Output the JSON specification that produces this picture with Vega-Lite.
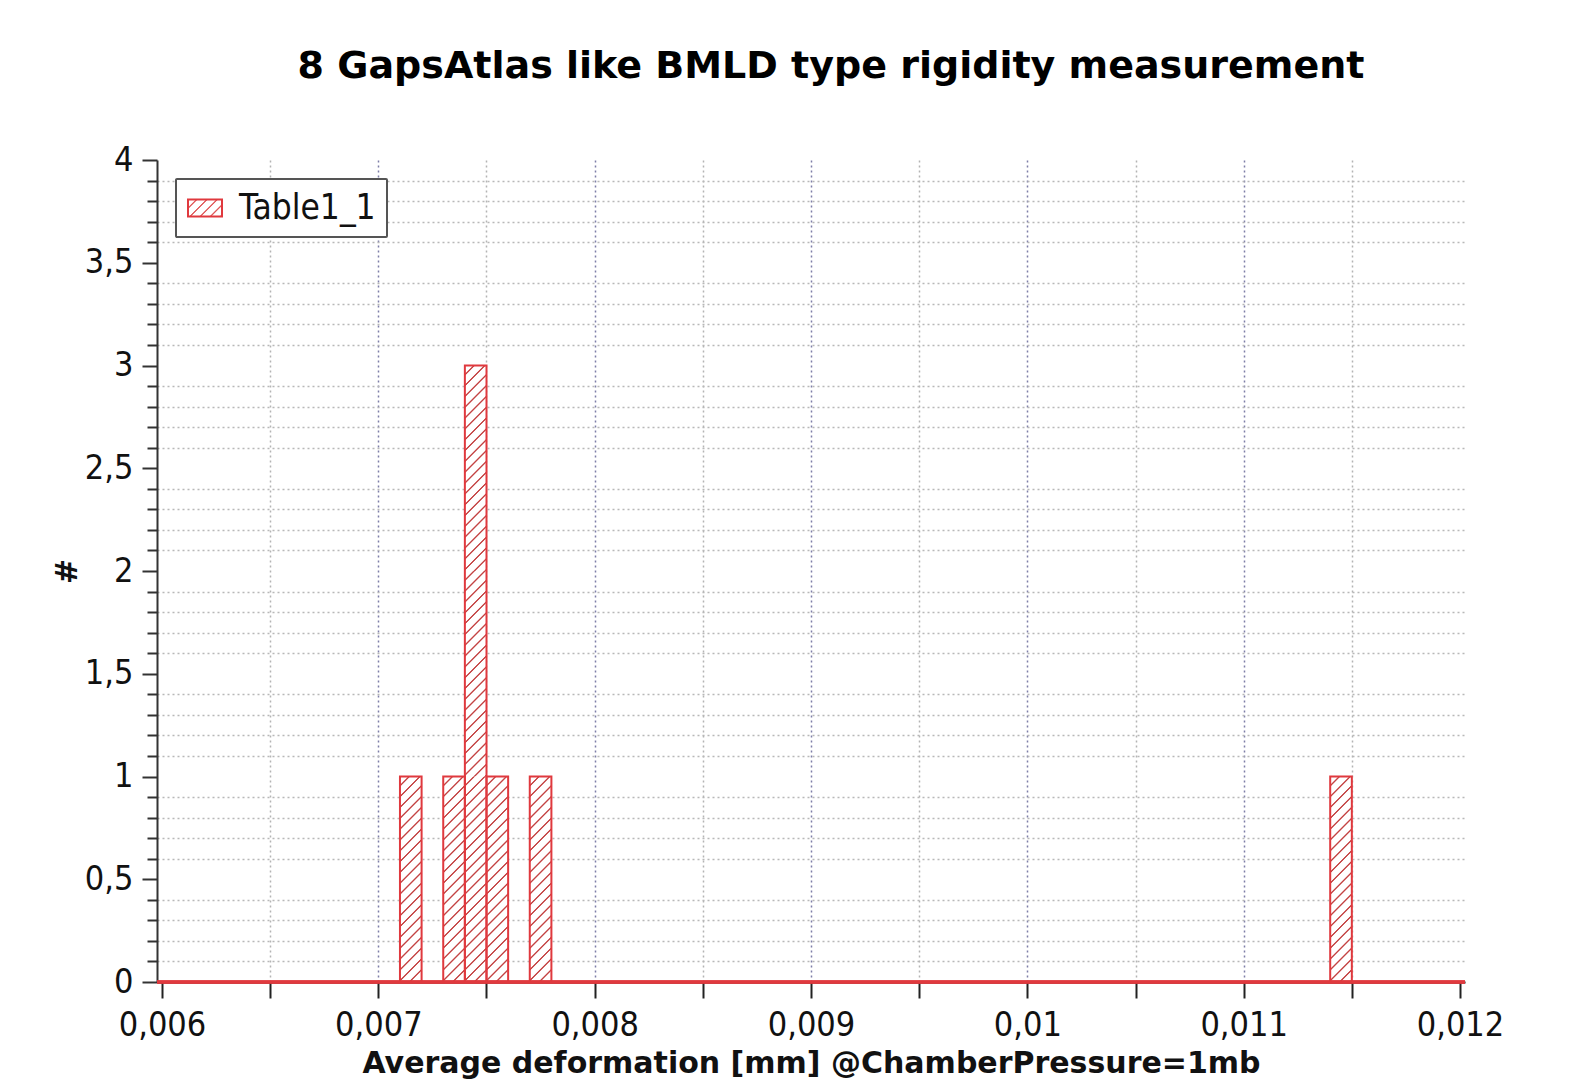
{
  "$schema": "https://vega.github.io/schema/vega-lite/v6.json",
  "width": 1308,
  "height": 822,
  "autosize": "none",
  "padding": {"left": 157, "top": 160, "right": 107, "bottom": 97},
  "background": "white",
  "title": {
    "text": "8 GapsAtlas like BMLD type rigidity measurement",
    "font": "DejaVu Sans",
    "fontWeight": "bold",
    "fontSize": 38,
    "color": "#000000",
    "anchor": "middle",
    "baseline": "alphabetic",
    "dx": 20,
    "offset": 27
  },
  "config": {
    "view": {"stroke": null},
    "axis": {"labelFont": "DejaVu Sans Condensed, Liberation Sans, sans-serif", "titleFont": "DejaVu Sans"},
    "legend": {"strokeWidth": 2}
  },
  "data": {
    "values": [
      {"id": 1, "bin_start": 0.0071, "bin_end": 0.0072},
      {"id": 2, "bin_start": 0.0073, "bin_end": 0.0074},
      {"id": 3, "bin_start": 0.0074, "bin_end": 0.0075},
      {"id": 4, "bin_start": 0.0074, "bin_end": 0.0075},
      {"id": 5, "bin_start": 0.0074, "bin_end": 0.0075},
      {"id": 6, "bin_start": 0.0075, "bin_end": 0.0076},
      {"id": 7, "bin_start": 0.0077, "bin_end": 0.0078},
      {"id": 8, "bin_start": 0.0114, "bin_end": 0.0115}
    ]
  },
  "resolve": {"axis": {"x": "independent", "y": "independent"}},
  "layer": [
    {
      "mark": {
        "type": "bar",
        "strokeWidth": 0,
        "fill": {
          "gradient": "linear", "x1": 0, "y1": 0, "x2": 0.116, "y2": 1.094,
          "stops": [
            {"offset": 0, "color": "#ffffff"}, {"offset": 0.03429, "color": "#ffffff"}, {"offset": 0.03905, "color": "#c44444"}, {"offset": 0.04286, "color": "#c44444"},
            {"offset": 0.04762, "color": "#ffffff"}, {"offset": 0.08191, "color": "#ffffff"}, {"offset": 0.08667, "color": "#c44444"}, {"offset": 0.09048, "color": "#c44444"},
            {"offset": 0.09524, "color": "#ffffff"}, {"offset": 0.12953, "color": "#ffffff"}, {"offset": 0.13429, "color": "#c44444"}, {"offset": 0.1381, "color": "#c44444"},
            {"offset": 0.14286, "color": "#ffffff"}, {"offset": 0.17715, "color": "#ffffff"}, {"offset": 0.18191, "color": "#c44444"}, {"offset": 0.18572, "color": "#c44444"},
            {"offset": 0.19048, "color": "#ffffff"}, {"offset": 0.22477, "color": "#ffffff"}, {"offset": 0.22953, "color": "#c44444"}, {"offset": 0.23334, "color": "#c44444"},
            {"offset": 0.2381, "color": "#ffffff"}, {"offset": 0.27239, "color": "#ffffff"}, {"offset": 0.27715, "color": "#c44444"}, {"offset": 0.28096, "color": "#c44444"},
            {"offset": 0.28571, "color": "#ffffff"}, {"offset": 0.32, "color": "#ffffff"}, {"offset": 0.32476, "color": "#c44444"}, {"offset": 0.32857, "color": "#c44444"},
            {"offset": 0.33333, "color": "#ffffff"}, {"offset": 0.36762, "color": "#ffffff"}, {"offset": 0.37238, "color": "#c44444"}, {"offset": 0.37619, "color": "#c44444"},
            {"offset": 0.38095, "color": "#ffffff"}, {"offset": 0.41524, "color": "#ffffff"}, {"offset": 0.42, "color": "#c44444"}, {"offset": 0.42381, "color": "#c44444"},
            {"offset": 0.42857, "color": "#ffffff"}, {"offset": 0.46286, "color": "#ffffff"}, {"offset": 0.46762, "color": "#c44444"}, {"offset": 0.47143, "color": "#c44444"},
            {"offset": 0.47619, "color": "#ffffff"}, {"offset": 0.51048, "color": "#ffffff"}, {"offset": 0.51524, "color": "#c44444"}, {"offset": 0.51905, "color": "#c44444"},
            {"offset": 0.52381, "color": "#ffffff"}, {"offset": 0.5581, "color": "#ffffff"}, {"offset": 0.56286, "color": "#c44444"}, {"offset": 0.56667, "color": "#c44444"},
            {"offset": 0.57143, "color": "#ffffff"}, {"offset": 0.60572, "color": "#ffffff"}, {"offset": 0.61048, "color": "#c44444"}, {"offset": 0.61429, "color": "#c44444"},
            {"offset": 0.61905, "color": "#ffffff"}, {"offset": 0.65334, "color": "#ffffff"}, {"offset": 0.6581, "color": "#c44444"}, {"offset": 0.66191, "color": "#c44444"},
            {"offset": 0.66667, "color": "#ffffff"}, {"offset": 0.70096, "color": "#ffffff"}, {"offset": 0.70572, "color": "#c44444"}, {"offset": 0.70953, "color": "#c44444"},
            {"offset": 0.71429, "color": "#ffffff"}, {"offset": 0.74858, "color": "#ffffff"}, {"offset": 0.75334, "color": "#c44444"}, {"offset": 0.75715, "color": "#c44444"},
            {"offset": 0.7619, "color": "#ffffff"}, {"offset": 0.79619, "color": "#ffffff"}, {"offset": 0.80095, "color": "#c44444"}, {"offset": 0.80476, "color": "#c44444"},
            {"offset": 0.80952, "color": "#ffffff"}, {"offset": 0.84381, "color": "#ffffff"}, {"offset": 0.84857, "color": "#c44444"}, {"offset": 0.85238, "color": "#c44444"},
            {"offset": 0.85714, "color": "#ffffff"}, {"offset": 0.89143, "color": "#ffffff"}, {"offset": 0.89619, "color": "#c44444"}, {"offset": 0.9, "color": "#c44444"},
            {"offset": 0.90476, "color": "#ffffff"}, {"offset": 0.93905, "color": "#ffffff"}, {"offset": 0.94381, "color": "#c44444"}, {"offset": 0.94762, "color": "#c44444"},
            {"offset": 0.95238, "color": "#ffffff"}, {"offset": 0.98667, "color": "#ffffff"}, {"offset": 0.99143, "color": "#c44444"}, {"offset": 0.99524, "color": "#c44444"},
            {"offset": 1, "color": "#ffffff"}
          ]
        }
      },
      "encoding": {
        "x": {
          "field": "bin_start", "type": "quantitative",
          "scale": {"domain": [0.006, 0.012], "nice": false, "zero": false},
          "axis": {
            "values": [0.006, 0.0065, 0.007, 0.0075, 0.008, 0.0085, 0.009, 0.0095, 0.01, 0.0105, 0.011, 0.0115, 0.012],
            "format": ".4~f",
            "labelExpr": "abs(datum.value*1000 - round(datum.value*1000)) < 1e-6 ? replace(datum.label, '.', ',') : ''",
            "labelFontSize": 34,
            "labelColor": "#111111",
            "labelBaseline": "alphabetic",
            "labelPadding": 37,
            "labelOverlap": false,
            "labelFlush": false,
            "tickSize": 16,
            "tickWidth": 2,
            "tickColor": "#222222",
            "domainColor": "#111111",
            "domainWidth": 2,
            "grid": true,
            "gridColor": {"condition": {"test": "abs(datum.value*1000 - round(datum.value*1000)) < 1e-6", "value": "#7e7ea8"}, "value": "#b4b4b4"},
            "gridDash": [2, 3],
            "gridWidth": 1.5,
            "gridOpacity": {"condition": {"test": "datum.value < 0.00601 || datum.value > 0.01199", "value": 0}, "value": 1},
            "title": "Average deformation [mm] @ChamberPressure=1mb",
            "titleFontSize": 30,
            "titleFontWeight": "bold",
            "titleColor": "#111111",
            "titleBaseline": "alphabetic",
            "titleY": 90
          }
        },
        "x2": {"field": "bin_end"},
        "y": {
          "aggregate": "count", "type": "quantitative", "stack": "zero",
          "scale": {"domain": [0, 4], "nice": false},
          "axis": {
            "orient": "left",
            "values": [0.1, 0.2, 0.3, 0.4, 0.6, 0.7, 0.8, 0.9, 1.1, 1.2, 1.3, 1.4, 1.6, 1.7, 1.8, 1.9, 2.1, 2.2, 2.3, 2.4, 2.6, 2.7, 2.8, 2.9, 3.1, 3.2, 3.3, 3.4, 3.6, 3.7, 3.8, 3.9],
            "labels": false,
            "domain": false,
            "tickSize": 10,
            "tickWidth": 2,
            "tickColor": "#333333",
            "grid": true,
            "gridColor": "#b8b8b8",
            "gridDash": [2, 3],
            "gridWidth": 1.5,
            "title": null
          }
        },
        "detail": {"field": "id", "type": "nominal"}
      }
    },
    {
      "mark": {"type": "bar", "fill": "transparent", "stroke": "#e0393e", "strokeWidth": 2},
      "encoding": {
        "x": {"field": "bin_start", "type": "quantitative", "axis": null},
        "x2": {"field": "bin_end"},
        "y": {
          "aggregate": "count", "type": "quantitative",
          "axis": {
            "orient": "left",
            "values": [0, 0.5, 1, 1.5, 2, 2.5, 3, 3.5, 4],
            "format": ".1~f",
            "labelExpr": "replace(datum.label, '.', ',')",
            "labelFontSize": 34,
            "labelColor": "#111111",
            "labelPadding": 9,
            "labelOverlap": false,
            "labelFlush": false,
            "tickSize": 15,
            "tickWidth": 2,
            "tickColor": "#333333",
            "domainColor": "#333333",
            "domainWidth": 2,
            "grid": false,
            "title": "#",
            "titleFontSize": 30,
            "titleFontWeight": "bold",
            "titleColor": "#111111",
            "titleAngle": -90,
            "titleX": -90,
            "titleY": 411,
            "titleAlign": "center",
            "titleBaseline": "middle"
          }
        }
      }
    },
    {
      "transform": [{"filter": "datum.id > 100"}],
      "mark": {
        "type": "bar",
        "strokeWidth": 2,
        "fillOpacity": 1,
        "fill": {
          "gradient": "linear", "x1": 0, "y1": 0, "x2": 1.2, "y2": 0.6,
          "stops": [
            {"offset": 0, "color": "#ffffff"}, {"offset": 0.144, "color": "#ffffff"}, {"offset": 0.164, "color": "#e05a5a"}, {"offset": 0.18, "color": "#e05a5a"},
            {"offset": 0.2, "color": "#ffffff"}, {"offset": 0.344, "color": "#ffffff"}, {"offset": 0.364, "color": "#e05a5a"}, {"offset": 0.38, "color": "#e05a5a"},
            {"offset": 0.4, "color": "#ffffff"}, {"offset": 0.544, "color": "#ffffff"}, {"offset": 0.564, "color": "#e05a5a"}, {"offset": 0.58, "color": "#e05a5a"},
            {"offset": 0.6, "color": "#ffffff"}, {"offset": 0.744, "color": "#ffffff"}, {"offset": 0.764, "color": "#e05a5a"}, {"offset": 0.78, "color": "#e05a5a"},
            {"offset": 0.8, "color": "#ffffff"}, {"offset": 0.944, "color": "#ffffff"}, {"offset": 0.964, "color": "#e05a5a"}, {"offset": 0.98, "color": "#e05a5a"},
            {"offset": 1, "color": "#ffffff"}
          ]
        }
      },
      "encoding": {
        "x": {"field": "bin_start", "type": "quantitative", "axis": null},
        "x2": {"field": "bin_end"},
        "y": {"aggregate": "count", "type": "quantitative", "axis": null},
        "stroke": {
          "datum": "Table1_1", "type": "nominal",
          "scale": {"range": ["#e0393e"]},
          "legend": {
            "title": null,
            "orient": "top-left",
            "offset": 19,
            "padding": 11,
            "strokeColor": "#555555",
            "fillColor": "#ffffff",
            "cornerRadius": 1,
            "labelFont": "DejaVu Sans Condensed, Liberation Sans, sans-serif",
            "labelFontSize": 35,
            "labelColor": "#111111",
            "labelOffset": 16,
            "labelExpr": "datum.label + '\u00a0\u00a0\u00a0'",
            "symbolSize": 1156,
            "symbolType": "M-1,-0.5H1V0.5H-1Z",
            "symbolStrokeWidth": 2
          }
        }
      }
    },
    {
      "mark": {"type": "rule", "color": "#e0393e", "strokeWidth": 2.5},
      "encoding": {"y": {"datum": 0, "type": "quantitative", "axis": null}}
    }
  ]
}
